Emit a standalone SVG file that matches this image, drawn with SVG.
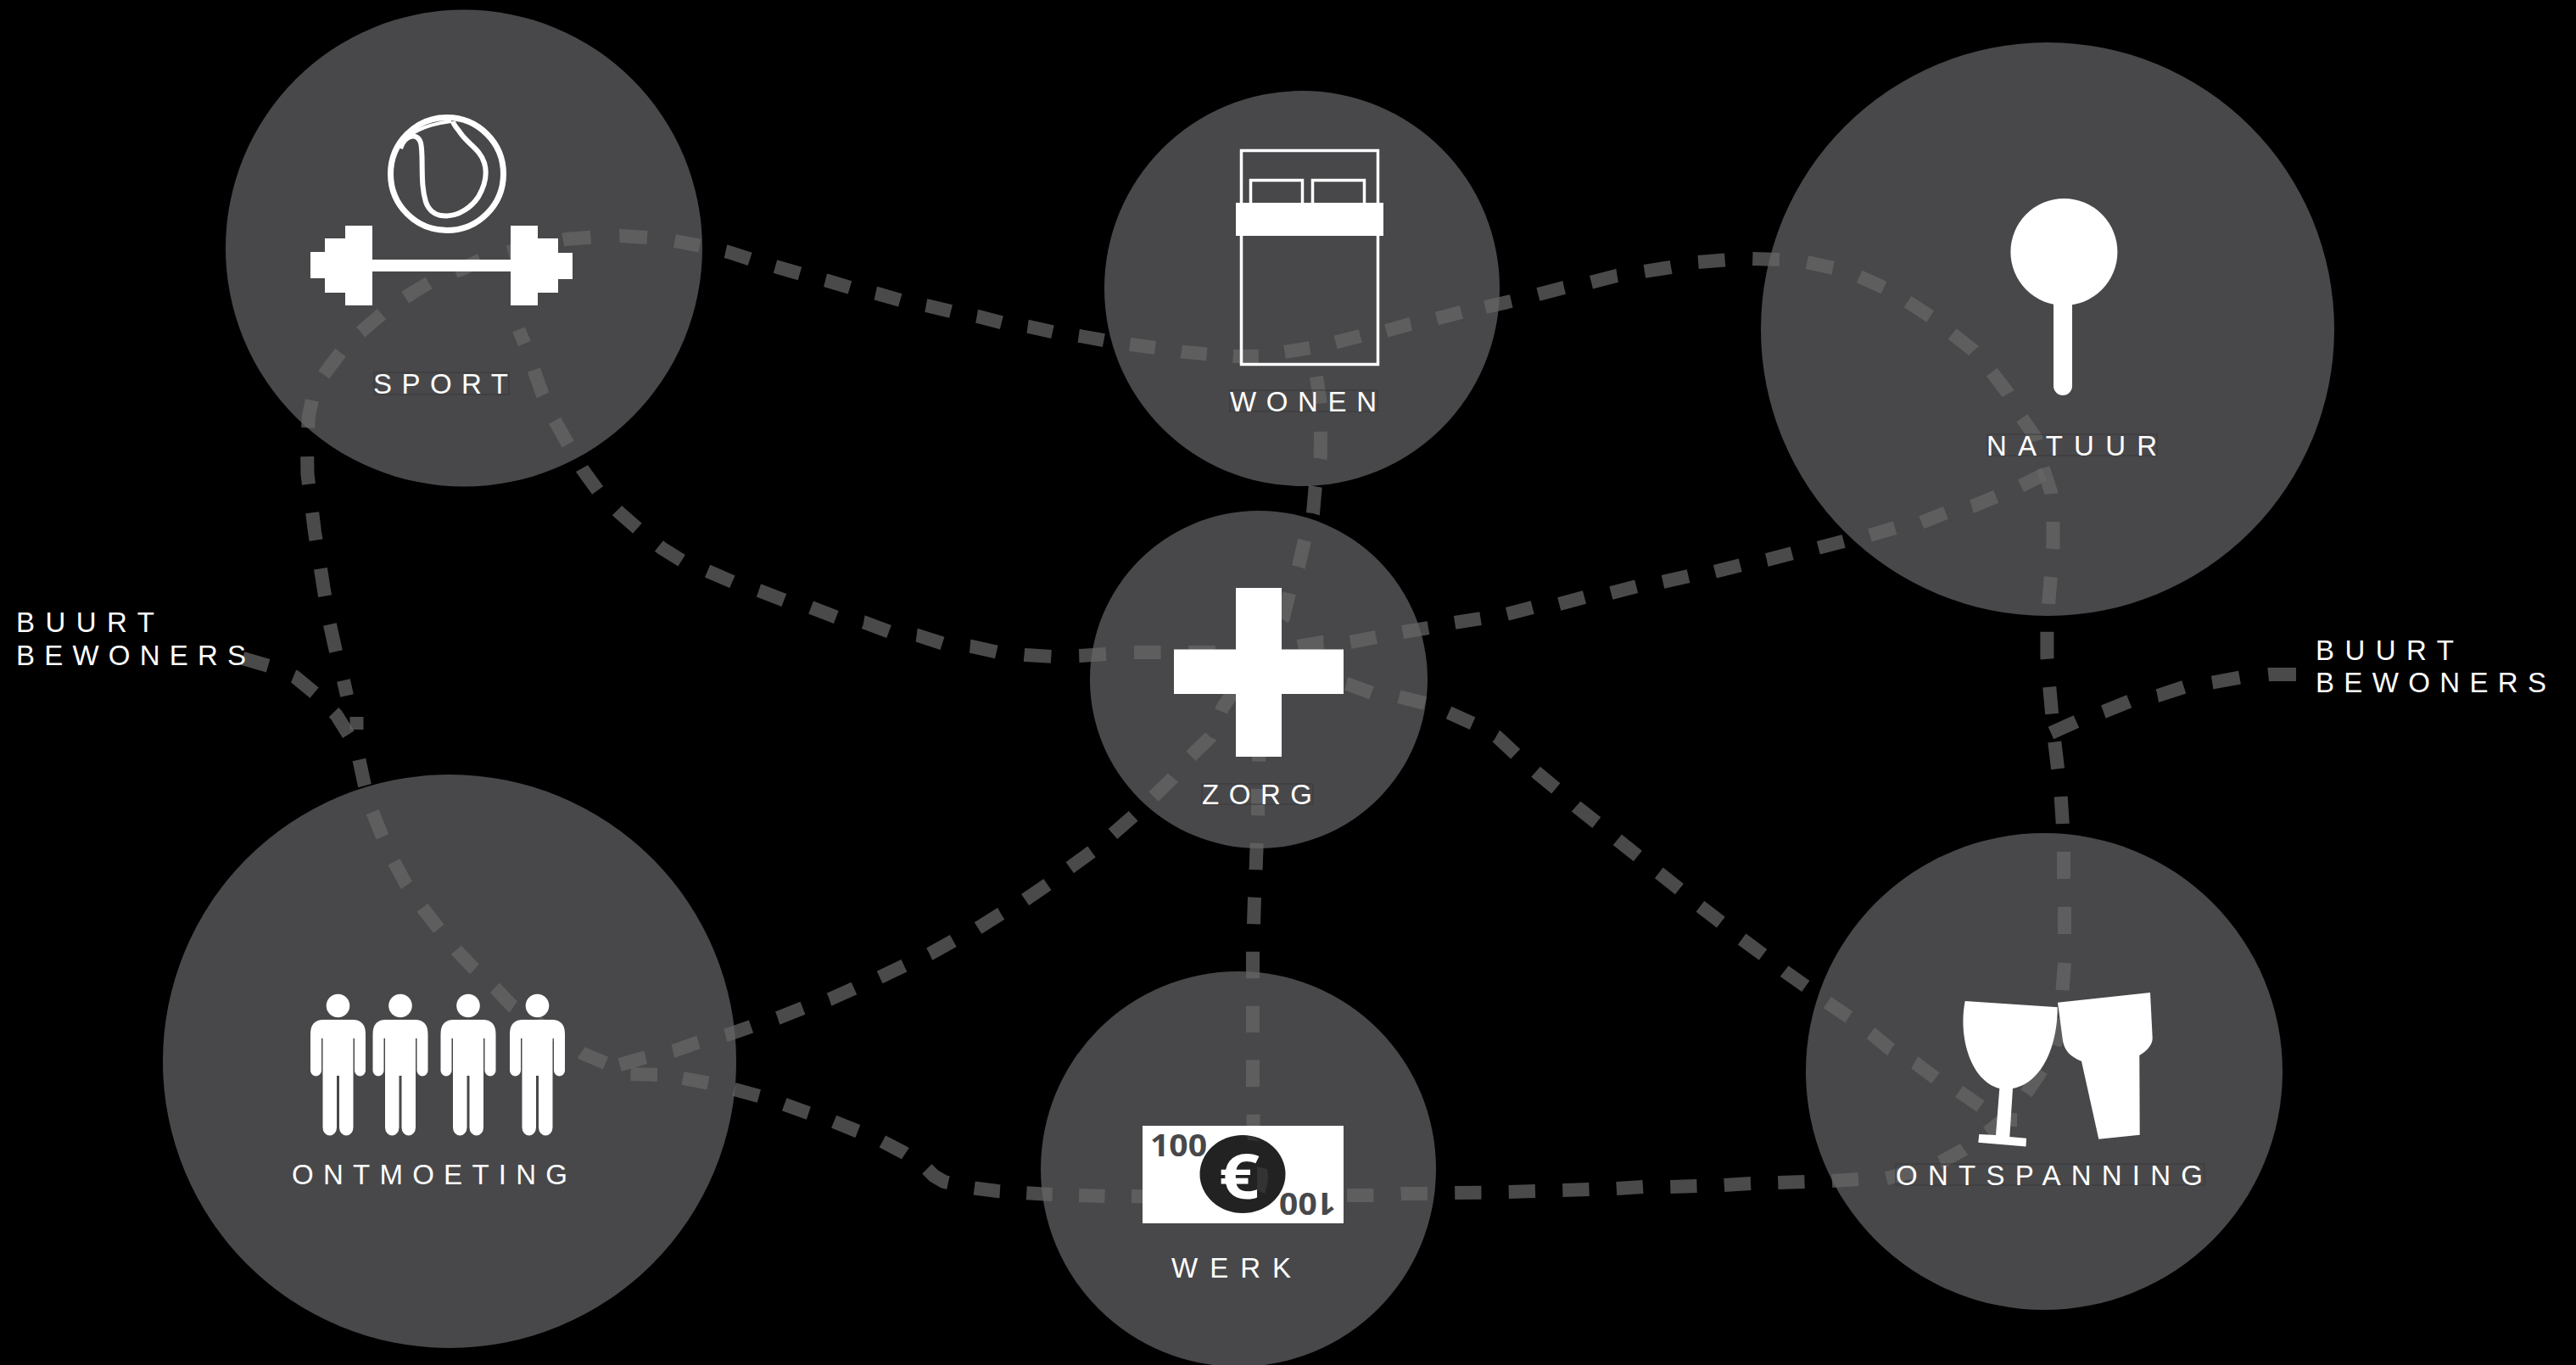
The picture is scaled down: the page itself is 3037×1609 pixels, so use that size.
<svg xmlns="http://www.w3.org/2000/svg" width="3037" height="1609" viewBox="0 0 3037 1609">
<style>
.bubble{fill:#48484a}
.conn{fill:none;stroke:#666;stroke-opacity:.72;stroke-width:16;stroke-linejoin:round}
.dash{stroke-dasharray:31 32}
.lbl{font-family:"Liberation Sans",Arial,sans-serif;font-size:33px;fill:#fff}
.tb{fill:none;stroke:#38383a;stroke-width:1}
.w{fill:#fff}
.ws{fill:none;stroke:#fff}
.money{font-family:"Open Sans","Liberation Sans",sans-serif;font-weight:700;font-size:36px;fill:#48484a}
</style>
<defs>
<g id="person">
<ellipse cx="0" cy="-16.5" rx="13.8" ry="13.7" class="w"/>
<path class="w" d="M-17 0H17Q32.5 0 32.5 17V60A6.5 6.5 0 0 1 19.5 60V22H18V127A8.25 9.5 0 0 1 1.5 127V66H-1.5V127A8.25 9.5 0 0 1-18 127V22H-19.5V60A6.5 6.5 0 0 1-32.5 60V17Q-32.5 0-17 0Z"/>
</g>
</defs>
<rect x="0" y="0" width="3037" height="1609" fill="#000"/>
<g id="bubbles">
<circle class="bubble" cx="547" cy="292.5" r="281"/>
<circle class="bubble" cx="1535" cy="340" r="233"/>
<circle class="bubble" cx="1484" cy="801" r="199"/>
<circle class="bubble" cx="2414" cy="388" r="338"/>
<circle class="bubble" cx="530" cy="1251" r="338"/>
<circle class="bubble" cx="1460" cy="1378" r="233"/>
<circle class="bubble" cx="2410" cy="1263" r="281"/>
</g>
<g id="connectors">
<path id="c-loop-1" class="conn dash" pathLength="724" d="M286 776L317 785L348 798L372.8 818.5L396.4 842.6L411 866L423 893.5L429.5 924L438.4 955.5L450 984L464 1015L478.6 1042L498 1070L516 1093L538 1120L558 1141L585 1166L603 1185L630 1203L659 1222L687.5 1242L716 1254L743 1266L775 1267"/>
<path id="c-loop-2" class="conn dash" pathLength="535" d="M805 1271L837 1277L865.5 1284L895 1292L923 1301L953 1312L980.5 1321L1010 1333L1035.6 1343L1065.6 1358.7L1090 1375L1101 1386L1113 1393L1145 1400L1176 1404L1208 1406L1239 1408L1271.5 1409L1302.5 1410"/>
<path id="c-loop-3" class="conn dash" pathLength="850" d="M1334 1410L1366 1411L1398 1411L1430 1411L1462 1411L1494 1411L1526 1410L1558 1410L1588 1409L1620 1409L1652 1407L1684 1407L1714.5 1406L1747 1405.7L1779 1405L1811 1404L1842 1403L1874 1402L1905 1401L1937 1399L1968 1399L2000 1398L2031 1397L2064 1395L2095 1394L2128 1393L2159 1392L2191 1390"/>
<path id="c-loop-4" class="conn dash" pathLength="346" d="M2224 1389L2255 1381L2288 1370L2315 1355L2343 1335L2372 1312L2388 1290L2405 1265L2421 1238L2429 1206L2431.5 1167L2434 1135"/>
<path id="c-loop-5" class="conn dash" pathLength="787" d="M2434 1101L2434 1069L2433 1035L2433 1003L2431.7 970L2429.6 938L2426 905.6L2422 872L2419 840L2416 807L2413.4 775L2413.4 742L2415.4 708.7L2418 677L2420.5 644L2420.5 613L2418 580L2408 549.5L2400 516L2382 490L2367 463L2347 437L2326.4 413L2301 393L2276.6 373.5L2249 355.6"/>
<path id="c-loop-6" class="conn dash" pathLength="472" d="M2221 339L2192 326L2161.5 316L2130 309L2098 306L2066 305L2034 306.5L2002 309L1970 315L1938 320L1906 325L1875 333L1844 339L1813 347L1782 355L1751 362"/>
<path id="c-loop-7" class="conn dash" pathLength="976" d="M1723 368L1692 376L1663 382L1632 390.5L1604 396L1573 404L1545 410L1514 415L1484 420L1454 420L1424 417.5L1394 414.6L1363 410L1333 406L1303 401.5L1273 396L1244 392L1213 385L1184 381L1153 373L1125 368L1094 360.5L1065 355L1034 346L1006 340L975.6 331L948 324L917 315L889 307L858.5 297L827 290L795.5 284"/>
<path id="c-loop-8" class="conn dash" pathLength="724" d="M763 280L731.4 278L699.6 279.4L667 282L635 288L604 296L571.4 304L547 316L513 329L486.5 345L458 363.5L435 383L410 405L390 430.5L371 457L364 490L362 524L362.5 559L367 595L371 627L377 664L382 696L388 732L396 768"/>
<path id="c-sport-zorg" class="conn dash" pathLength="787" d="M629.4 436L639.6 465L654 495.6L670 524L686.5 553L705 578.6L730 604L754 625L780 646L804 661L834 673L864 686L894.7 696L925.7 708L956 716L987 728L1018.6 733.5L1049.6 745L1082 749L1113 759L1145.7 762L1176.7 769L1209.4 772L1241.4 774L1273 773L1304 771"/>
<path id="c-zorg-cross" class="conn dash" pathLength="346" d="M1337 769L1368 769L1400 769L1431 769L1463 769L1494 772L1525 789L1556 800L1587.7 806L1618 817L1647 820.6L1680 829"/>
<path id="c-zorg-ontspanning" class="conn dash" pathLength="787" d="M1708 840L1739 854L1765 868.5L1788 890L1811.5 910.5L1835.6 930.5L1858.7 951L1884 971L1907 990L1932 1010L1956 1029L1981 1049L2004 1068L2030 1088L2053.6 1107L2079.4 1126L2104 1145L2129 1162.6L2154 1181.5L2180 1199L2206 1218L2229 1237L2258 1253L2282 1271L2309 1286L2335 1304"/>
<path id="c-zorg-natuur" class="conn dash" pathLength="913" d="M1530 762L1560 757L1592 757L1623 751L1654 745L1685 740L1714 734L1746 729L1776 724L1807 716L1838 712L1868 704L1899 699L1930 691L1960 686L1991 679L2021 674L2053 666L2083 660L2113.6 652L2143 646L2174 638L2204 631L2235 622L2265 616L2295 604L2325 597L2354 585L2382 573L2410 559"/>
<path id="c-buurt-right" class="conn dash" pathLength="283" d="M2707 795L2675 795L2641.6 798.5L2608.6 804.5L2575.5 809.7L2544 820L2511 826.5L2480 839L2448 850.5L2418 864"/>
<path id="c-zorg-werk" class="conn dash" pathLength="472" d="M1484 866L1484 897L1483 930L1483 961L1481.7 995L1480.5 1027L1479 1058L1478 1090L1477 1120L1477 1152L1477 1185L1477 1217L1477 1249L1477 1281L1477.5 1313L1478 1345"/>
<path id="c-wonen-zorg" class="conn dash" pathLength="598" d="M1552 444L1557 476L1557 509L1556.7 540L1550.7 574L1548 605L1538 637L1531 668L1520 699L1513 728L1496 755L1478 782L1459 808L1441 835L1427 869L1402 893L1381.7 918L1360 939L1336 962L1312 983"/>
<path id="c-zorg-ontmoeting" class="conn dash" pathLength="598" d="M1287 1004L1261 1023L1235 1042.5L1208 1061L1180 1077L1153 1094L1124 1109L1096 1124.5L1066.6 1138L1037 1152L1007 1165L978 1178L947 1188L917 1200L885.5 1210L857 1220L822 1229L794 1239L759 1247L730.5 1255"/>
<path id="c-stubs" class="conn" d="M405 802L409 820M420.5 845V860M611.5 388.5L618.5 405M2361 1320H2378"/>
</g>
<g id="sport">
<circle class="ws" cx="527" cy="205" r="66.5" stroke-width="7"/>
<path class="ws" stroke-width="6" d="M472 175C476 163 484 159 490 161C497 164 497 172 497.5 185C498 205 497 222 502 238C506 250 516 255 527 254.5C542 254 556 244 564 232C572 218 575 205 571 192C566 176 552 170 543 157C539 151 535 148 534 143"/>
<path class="ws" stroke-width="4" d="M482 160Q503 146 532 143"/>
<path class="w" d="M366 297H383V281H407V266H439V306H602V266H634V281H658V298H675V329H658V345H634V360H602V320H439V360H407V345H383V328H366Z"/>
<rect class="tb" x="441" y="439" width="159" height="26"/>
<text class="lbl" x="440" y="464" textLength="159" lengthAdjust="spacing">SPORT</text>
</g>
<g id="wonen">
<rect class="ws" x="1463.5" y="177.5" width="161" height="252" stroke-width="3.5"/>
<path class="ws" stroke-width="3.5" d="M1474.5 239V212.5H1535.5V239M1547.5 239V212.5H1608.5V239"/>
<rect class="w" x="1457" y="239" width="174" height="39"/>
<rect class="tb" x="1450" y="460" width="174" height="25"/>
<text class="lbl" x="1450" y="485" textLength="173" lengthAdjust="spacing">WONEN</text>
</g>
<g id="zorg">
<path class="w" d="M1457 693H1511V765.5H1584V818H1511V892H1457V818H1384V765.5H1457Z"/>
<rect class="tb" x="1417" y="924" width="131" height="24"/>
<text class="lbl" x="1417" y="948" textLength="130" lengthAdjust="spacing">ZORG</text>
</g>
<g id="natuur">
<circle class="w" cx="2433.4" cy="297" r="63"/>
<rect class="w" x="2421" y="340" width="22" height="126" rx="11"/>
<rect class="tb" x="2343" y="512" width="200" height="25"/>
<text class="lbl" x="2342" y="537" textLength="201" lengthAdjust="spacing">NATUUR</text>
</g>
<g id="ontmoeting">
<use href="#person" x="398.5" y="1202"/>
<use href="#person" x="472" y="1202"/>
<use href="#person" x="552" y="1202"/>
<use href="#person" x="633.5" y="1202"/>
<text class="lbl" x="344" y="1396" textLength="325" lengthAdjust="spacing">ONTMOETING</text>
</g>
<g id="werk">
<rect class="w" x="1347" y="1327" width="237" height="115"/>
<ellipse cx="1465" cy="1384" rx="50.5" ry="46" fill="#222"/>
<path fill="#333" d="M1470 1339Q1478 1338 1486 1345L1471 1344ZM1482 1375L1494 1378Q1497 1392 1491 1407L1482 1403Z"/>
<text x="1437" y="1413" font-family="'Open Sans','Liberation Sans',sans-serif" font-weight="700" font-size="74" fill="#fff" textLength="48" lengthAdjust="spacingAndGlyphs">€</text>
<text class="money" x="1356" y="1363" textLength="67" lengthAdjust="spacingAndGlyphs">100</text>
<text class="money" transform="rotate(180 1541.5 1419)" x="1508" y="1432" textLength="67" lengthAdjust="spacingAndGlyphs">100</text>
<text class="lbl" x="1381" y="1506" textLength="141" lengthAdjust="spacing">WERK</text>
</g>
<g id="ontspanning">
<path class="w" d="M2316.7 1180L2425.7 1187.3C2426 1225 2412 1275 2373 1283L2369.3 1340L2389 1341.7L2388.5 1351.5L2332.3 1346.7L2333.3 1337L2353 1338L2357.3 1283C2325 1275 2308 1225 2316.7 1180Z"/>
<path class="w" d="M2426 1181.7L2535 1170L2537.7 1223.3C2538 1232 2530 1240 2522.3 1244L2522.7 1337.7L2474.3 1342.7L2454 1251C2440 1245 2434 1238 2432 1227Z"/>
<rect class="tb" x="2235" y="1372" width="364" height="25"/>
<text class="lbl" x="2235" y="1397" textLength="362" lengthAdjust="spacing">ONTSPANNING</text>
</g>
<g id="buurt-left">
<text class="lbl" x="19" y="745" textLength="163" lengthAdjust="spacing">BUURT</text>
<text class="lbl" x="19" y="784" textLength="271" lengthAdjust="spacing">BEWONERS</text>
</g>
<g id="buurt-right">
<text class="lbl" x="2730" y="778" textLength="163" lengthAdjust="spacing">BUURT</text>
<text class="lbl" x="2730" y="816" textLength="272" lengthAdjust="spacing">BEWONERS</text>
</g>
</svg>
